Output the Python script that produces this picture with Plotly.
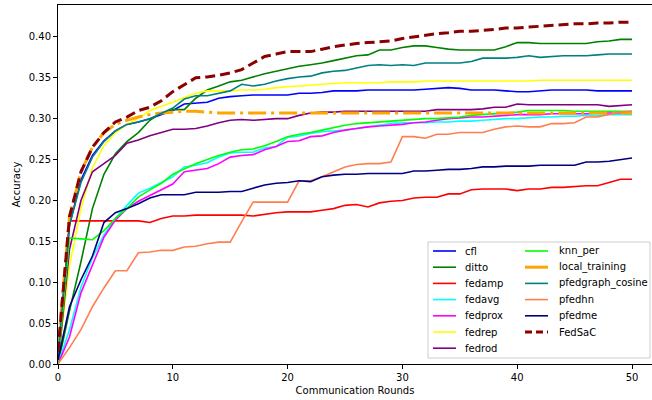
import plotly.graph_objects as go

rounds = list(range(51))

cfl = [0.010, 0.170, 0.225, 0.255, 0.273, 0.285, 0.293, 0.296, 0.300, 0.305, 0.310,
       0.318, 0.319, 0.320, 0.325, 0.327, 0.328, 0.329, 0.329, 0.329, 0.329,
       0.331, 0.331, 0.332, 0.334, 0.334, 0.334, 0.335, 0.335, 0.335, 0.335,
       0.335, 0.336, 0.337, 0.338, 0.337, 0.335, 0.335, 0.335, 0.334, 0.333,
       0.333, 0.334, 0.335, 0.335, 0.335, 0.335, 0.334, 0.334, 0.334, 0.334]

ditto = [0.000, 0.065, 0.125, 0.190, 0.232, 0.257, 0.272, 0.283, 0.298, 0.307, 0.311,
         0.311, 0.325, 0.335, 0.340, 0.345, 0.347, 0.351, 0.355, 0.358, 0.361,
         0.364, 0.366, 0.368, 0.371, 0.374, 0.377, 0.378, 0.384, 0.384, 0.387,
         0.389, 0.389, 0.387, 0.385, 0.384, 0.384, 0.384, 0.384, 0.388, 0.393,
         0.393, 0.392, 0.392, 0.392, 0.392, 0.392, 0.394, 0.395, 0.397, 0.397]

fedamp = [0.000, 0.175, 0.175, 0.175, 0.175, 0.175, 0.175, 0.175, 0.173, 0.178, 0.181,
          0.181, 0.182, 0.182, 0.182, 0.182, 0.182, 0.181, 0.183, 0.185, 0.186,
          0.186, 0.186, 0.188, 0.190, 0.194, 0.195, 0.192, 0.197, 0.199, 0.200,
          0.203, 0.204, 0.204, 0.208, 0.208, 0.213, 0.214, 0.214, 0.214, 0.212,
          0.214, 0.214, 0.216, 0.216, 0.217, 0.218, 0.218, 0.222, 0.226, 0.226]

fedavg = [0.000, 0.042, 0.094, 0.130, 0.158, 0.178, 0.194, 0.209, 0.215, 0.222, 0.229,
          0.241, 0.243, 0.246, 0.253, 0.258, 0.259, 0.259, 0.264, 0.266, 0.277,
          0.279, 0.282, 0.284, 0.285, 0.286, 0.288, 0.290, 0.292, 0.294, 0.295,
          0.295, 0.295, 0.296, 0.296, 0.297, 0.297, 0.298, 0.299, 0.300, 0.300,
          0.301, 0.302, 0.302, 0.303, 0.303, 0.304, 0.304, 0.305, 0.305, 0.305]

fedprox = [0.000, 0.033, 0.087, 0.121, 0.155, 0.176, 0.190, 0.199, 0.206, 0.214, 0.220,
           0.235, 0.237, 0.239, 0.245, 0.253, 0.255, 0.256, 0.262, 0.266, 0.272,
           0.273, 0.278, 0.279, 0.283, 0.286, 0.288, 0.290, 0.291, 0.292, 0.293,
           0.295, 0.296, 0.298, 0.300, 0.301, 0.302, 0.302, 0.303, 0.304, 0.305,
           0.305, 0.305, 0.306, 0.306, 0.306, 0.306, 0.307, 0.307, 0.307, 0.307]

fedrep = [0.005, 0.120, 0.190, 0.240, 0.267, 0.283, 0.293, 0.300, 0.310, 0.315, 0.320,
          0.326, 0.331, 0.334, 0.334, 0.334, 0.335, 0.335, 0.336, 0.338, 0.339,
          0.340, 0.341, 0.342, 0.343, 0.344, 0.344, 0.344, 0.344, 0.345, 0.345,
          0.345, 0.346, 0.346, 0.346, 0.346, 0.346, 0.346, 0.346, 0.346, 0.346,
          0.346, 0.347, 0.347, 0.347, 0.347, 0.347, 0.347, 0.347, 0.347, 0.347]

fedrod = [0.000, 0.140, 0.200, 0.235, 0.245, 0.255, 0.270, 0.274, 0.279, 0.283, 0.287,
          0.287, 0.288, 0.291, 0.295, 0.298, 0.299, 0.298, 0.299, 0.300, 0.300,
          0.304, 0.307, 0.308, 0.308, 0.309, 0.309, 0.309, 0.309, 0.309, 0.309,
          0.309, 0.309, 0.311, 0.311, 0.311, 0.311, 0.312, 0.314, 0.314, 0.318,
          0.317, 0.317, 0.317, 0.317, 0.317, 0.317, 0.317, 0.315, 0.316, 0.317]

knn_per = [0.000, 0.154, 0.153, 0.152, 0.163, 0.178, 0.190, 0.204, 0.213, 0.221, 0.232,
           0.239, 0.245, 0.250, 0.255, 0.259, 0.262, 0.263, 0.267, 0.272, 0.278,
           0.281, 0.283, 0.286, 0.289, 0.292, 0.294, 0.295, 0.296, 0.297, 0.298,
           0.299, 0.300, 0.300, 0.301, 0.302, 0.304, 0.305, 0.306, 0.307, 0.308,
           0.310, 0.310, 0.310, 0.310, 0.309, 0.309, 0.309, 0.309, 0.309, 0.309]

local_training = [0.020, 0.180, 0.235, 0.265, 0.283, 0.293, 0.298, 0.302, 0.305, 0.307, 0.308,
                  0.309, 0.309, 0.308, 0.307, 0.307, 0.307, 0.307, 0.307, 0.307, 0.307,
                  0.307, 0.307, 0.307, 0.307, 0.307, 0.307, 0.307, 0.307, 0.307, 0.307,
                  0.307, 0.307, 0.307, 0.307, 0.307, 0.307, 0.307, 0.307, 0.307, 0.307,
                  0.307, 0.307, 0.307, 0.307, 0.307, 0.307, 0.307, 0.307, 0.307, 0.307]

pfedgraph_cosine = [0.010, 0.170, 0.222, 0.253, 0.272, 0.285, 0.293, 0.296, 0.300, 0.306, 0.313,
                    0.324, 0.328, 0.328, 0.331, 0.334, 0.342, 0.340, 0.342, 0.346, 0.349,
                    0.351, 0.352, 0.356, 0.358, 0.359, 0.362, 0.365, 0.366, 0.365, 0.366,
                    0.365, 0.368, 0.368, 0.368, 0.368, 0.370, 0.374, 0.374, 0.374, 0.375,
                    0.377, 0.375, 0.376, 0.377, 0.377, 0.377, 0.378, 0.379, 0.379, 0.379]

pfedhn = [0.000, 0.020, 0.042, 0.070, 0.093, 0.114, 0.114, 0.136, 0.137, 0.139, 0.139,
          0.143, 0.144, 0.147, 0.149, 0.149, 0.174, 0.198, 0.198, 0.198, 0.198,
          0.224, 0.224, 0.229, 0.235, 0.241, 0.244, 0.245, 0.245, 0.247, 0.278,
          0.278, 0.276, 0.281, 0.281, 0.283, 0.283, 0.283, 0.287, 0.290, 0.291,
          0.290, 0.290, 0.294, 0.294, 0.295, 0.302, 0.302, 0.305, 0.308, 0.309]

pfedme = [0.005, 0.070, 0.103, 0.132, 0.173, 0.185, 0.190, 0.196, 0.203, 0.207, 0.207,
          0.207, 0.210, 0.210, 0.210, 0.211, 0.211, 0.215, 0.219, 0.221, 0.222,
          0.224, 0.223, 0.229, 0.231, 0.232, 0.232, 0.233, 0.233, 0.233, 0.233,
          0.236, 0.236, 0.237, 0.238, 0.238, 0.239, 0.241, 0.241, 0.242, 0.242,
          0.242, 0.243, 0.243, 0.243, 0.243, 0.247, 0.247, 0.248, 0.250, 0.252]

FedSaC = [0.015, 0.180, 0.235, 0.265, 0.283, 0.296, 0.302, 0.310, 0.314, 0.322, 0.333,
          0.341, 0.350, 0.351, 0.353, 0.356, 0.360, 0.368, 0.376, 0.379, 0.382,
          0.382, 0.382, 0.385, 0.388, 0.390, 0.392, 0.393, 0.394, 0.395, 0.398,
          0.400, 0.402, 0.404, 0.405, 0.407, 0.407, 0.408, 0.409, 0.411, 0.411,
          0.412, 0.413, 0.414, 0.415, 0.416, 0.416, 0.417, 0.417, 0.418, 0.418]

series_names = ["cfl", "ditto", "fedamp", "fedavg", "fedprox", "fedrep", "fedrod",
                "knn_per", "local_training", "pfedgraph_cosine", "pfedhn", "pfedme", "FedSaC"]
series_values = [cfl, ditto, fedamp, fedavg, fedprox, fedrep, fedrod,
                 knn_per, local_training, pfedgraph_cosine, pfedhn, pfedme, FedSaC]

x_ticks = [0, 10, 20, 30, 40, 50]
y_ticks = [0.00, 0.05, 0.10, 0.15, 0.20, 0.25, 0.30, 0.35, 0.40]

styles = {
    "cfl": dict(color="#0000FF", width=1.6, dash="solid"),
    "ditto": dict(color="#008000", width=1.6, dash="solid"),
    "fedamp": dict(color="#FF0000", width=1.6, dash="solid"),
    "fedavg": dict(color="#00FFFF", width=1.6, dash="solid"),
    "fedprox": dict(color="#FF00FF", width=1.6, dash="solid"),
    "fedrep": dict(color="#FFFF00", width=1.6, dash="solid"),
    "fedrod": dict(color="#800080", width=1.6, dash="solid"),
    "knn_per": dict(color="#00FF00", width=1.6, dash="solid"),
    "local_training": dict(color="#FFA500", width=3, dash="18px,5px,3px,5px"),
    "pfedgraph_cosine": dict(color="#008080", width=1.6, dash="solid"),
    "pfedhn": dict(color="#FF7F50", width=1.6, dash="solid"),
    "pfedme": dict(color="#000080", width=1.6, dash="solid"),
    "FedSaC": dict(color="#8B0000", width=3, dash="10px,5px"),
}

W, H = 652, 400
ML, MR, MT, MB = 58, 0, 5, 36
PW, PH = W - ML - MR, H - MT - MB


def fx(px):
    return (px - ML) / PW


def fy(py):
    return (H - MB - py) / PH


fig = go.Figure()
for name, vals in zip(series_names, series_values):
    st = styles[name]
    fig.add_trace(go.Scatter(x=rounds, y=vals, mode="lines", name=name,
                             line=dict(color=st["color"], width=st["width"], dash=st["dash"]),
                             showlegend=False))

# legend (drawn manually, two columns inside one framed box)
shapes = [dict(type="rect", xref="paper", yref="paper",
               x0=fx(428), x1=fx(650), y0=fy(358), y1=fy(242),
               line=dict(color="#CCCCCC", width=1), fillcolor="rgba(255,255,255,0.85)",
               layer="above")]
annotations = []
row_h = 16.2
for i, name in enumerate(series_names):
    col, row = (0, i) if i < 7 else (1, i - 7)
    lx0 = 433 if col == 0 else 525
    tx = 463 if col == 0 else 557
    cy = 251 + row * row_h
    st = styles[name]
    shapes.append(dict(type="line", xref="paper", yref="paper",
                       x0=fx(lx0), x1=fx(lx0 + 23), y0=fy(cy), y1=fy(cy),
                       line=dict(color=st["color"], width=st["width"],
                                 dash="7px,4px" if name == "FedSaC" else "solid"),
                       layer="above"))
    annotations.append(dict(text=name, xref="paper", yref="paper", x=fx(tx), y=fy(cy),
                            xanchor="left", yanchor="middle", showarrow=False,
                            font=dict(size=10, color="#000000", family="DejaVu Sans")))

fig.update_layout(
    width=W, height=H,
    margin=dict(l=ML, r=MR, t=MT, b=MB, pad=0),
    paper_bgcolor="white", plot_bgcolor="white",
    font=dict(family="DejaVu Sans", size=10, color="#000000"),
    shapes=shapes, annotations=annotations,
    showlegend=False,
)
fig.update_xaxes(range=[0, 51.74], tickvals=x_ticks, ticks="outside", ticklen=4,
                 tickcolor="black", showline=True, linecolor="black", linewidth=1,
                 mirror=True, showgrid=False, zeroline=False,
                 title=dict(text="Communication Rounds", standoff=4, font=dict(size=10)))
fig.update_yaxes(range=[0, 0.439], tickvals=y_ticks, tickformat=".2f", ticks="outside",
                 ticklen=4, tickcolor="black", showline=True, linecolor="black", linewidth=1,
                 showgrid=False, zeroline=False,
                 title=dict(text="Accuracy", standoff=6, font=dict(size=10)))

fig.write_html("out.html", config={"displayModeBar": False},
               post_script="document.body.style.margin='0';")
